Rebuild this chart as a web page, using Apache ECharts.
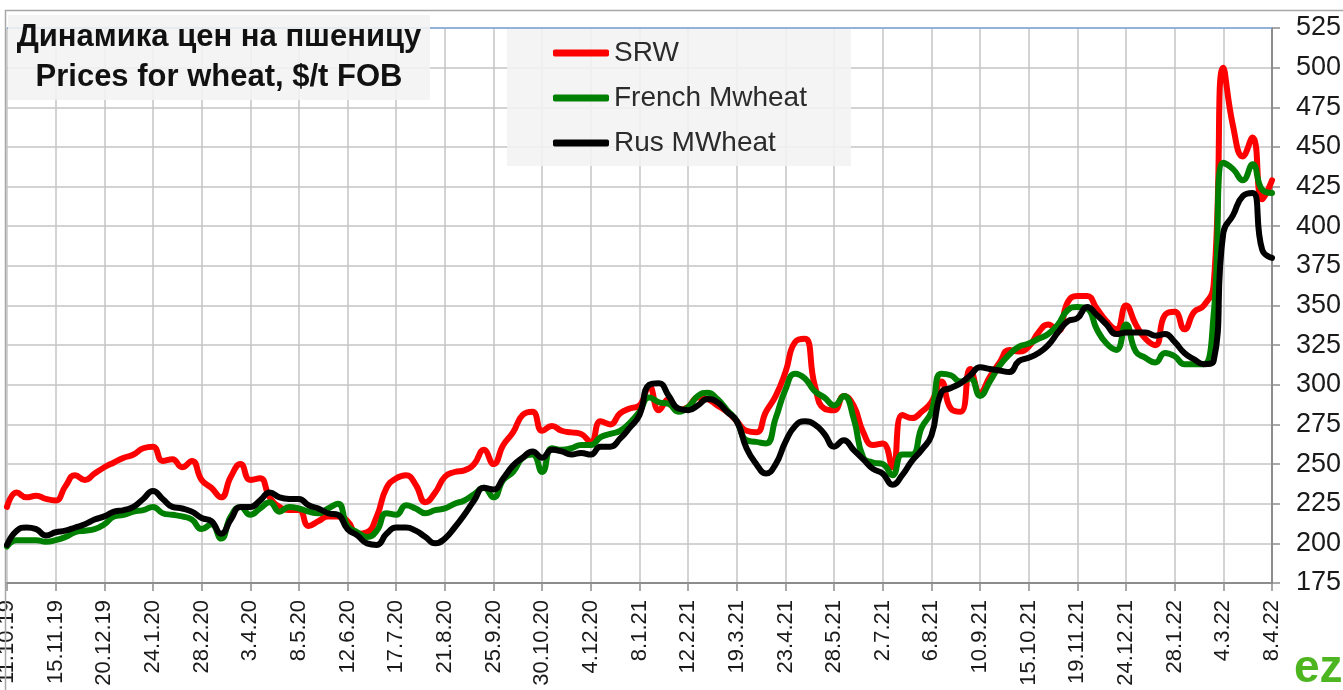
<!DOCTYPE html>
<html>
<head>
<meta charset="utf-8">
<title>Prices for wheat</title>
<script src="https://cdn.jsdelivr.net/npm/echarts@6/dist/echarts.min.js"></script>
<style>
  html, body { margin: 0; padding: 0; background: #fff; }
  #main { width: 1343px; height: 690px; }
</style>
</head>
<body>
<div id="main"></div>
<script>
// weekly prices, $/t FOB, first week 11.10.19
const srw = [223, 232, 229, 230, 228, 227, 236, 243, 240, 244, 248, 251, 254, 256, 260, 261, 252, 253, 248, 252,
  240, 235, 229, 242, 250, 240, 241, 229, 223, 221, 221, 211, 214, 217, 217, 214, 206, 207, 217, 235,
  241, 243, 237, 226, 232, 242, 245, 246, 250, 259, 250, 262, 270, 281, 283, 271, 274, 271, 270, 269,
  264, 277, 275, 282, 285, 287, 299, 284, 291, 284, 286, 292, 291, 287, 283, 277, 271, 270, 283, 293,
  308, 327, 329, 300, 285, 284, 293, 287, 270, 262, 263, 248, 281, 279, 283, 289, 302, 285, 283, 310,
  295, 305, 314, 322, 321, 324, 333, 338, 334, 352, 356, 356, 348, 340, 335, 350, 338, 329, 325, 344,
  346, 335, 346, 350, 363, 500, 463, 444, 456, 417, 429];
const frenchMw = [198, 202, 202, 202, 201, 202, 204, 207, 208, 209, 212, 217, 218, 220, 221, 223, 219, 218, 217, 215,
  209, 212, 203, 217, 223, 218, 222, 226, 220, 223, 222, 220, 219, 222, 225, 211, 207, 204, 208, 219,
  218, 224, 222, 219, 221, 222, 225, 227, 231, 235, 229, 240, 245, 254, 256, 245, 260, 259, 260, 262,
  262, 267, 269, 271, 276, 283, 292, 289, 288, 283, 286, 293, 295, 291, 284, 277, 265, 264, 263, 279,
  297, 307, 304, 296, 292, 287, 293, 279, 254, 251, 250, 243, 256, 256, 273, 283, 307, 306, 302, 304,
  293, 302, 312, 319, 324, 326, 329, 332, 338, 347, 349, 348, 335, 326, 322, 338, 321, 317, 314, 320,
  318, 313, 313, 313, 344, 440, 436, 429, 439, 423, 421];
const rusMw = [199, 208, 210, 209, 205, 207, 208, 210, 212, 215, 217, 220, 221, 223, 228, 233, 228, 223, 222, 220,
  216, 214, 206, 215, 223, 223, 227, 232, 229, 228, 228, 224, 222, 219, 218, 209, 205, 200, 199, 206,
  210, 210, 208, 204, 200, 203, 210, 218, 227, 235, 234, 241, 249, 254, 258, 254, 259, 258, 256, 257,
  256, 261, 261, 266, 273, 281, 300, 301, 293, 285, 284, 287, 291, 289, 283, 277, 260, 250, 244, 250,
  264, 274, 277, 275, 269, 261, 265, 259, 253, 247, 244, 237, 243, 252, 259, 268, 295, 298, 301, 306,
  311, 310, 309, 308, 315, 317, 320, 325, 333, 340, 342, 349, 344, 338, 332, 333, 333, 333, 331, 332,
  327, 320, 316, 313, 315, 396, 407, 419, 421, 385, 380];

const seriesNames = ['SRW', 'French Mwheat', 'Rus MWheat'];
const seriesColors = ['#ff0000', '#008000', '#000000'];

// week labels d.m.yy
const weeks = [];
for (let i = 0; i < srw.length; i++) {
  const d = new Date(2019, 9, 11 + i * 7);
  weeks.push(d.getDate() + '.' + (d.getMonth() + 1) + '.' + String(d.getFullYear()).slice(2));
}

const font = 'Liberation Sans, Arial, sans-serif';
const gridColor = '#c4c4c4';

const chart = echarts.init(document.getElementById('main'));
chart.setOption({
  animation: false,
  backgroundColor: '#ffffff',
  color: seriesColors,
  grid: {left: 7, right: 71, top: 28, bottom: 107, outerBoundsMode: 'none'},
  legend: {
    data: seriesNames,
    orient: 'vertical',
    left: 507,
    top: 29,
    padding: [9, 44, 8, 46],
    backgroundColor: 'rgba(242,242,242,0.88)',
    icon: 'roundRect',
    itemWidth: 56,
    itemHeight: 7,
    itemGap: 15,
    selectedMode: false,
    textStyle: {fontSize: 28, color: '#2b2b2b', fontFamily: font, lineHeight: 30}
  },
  xAxis: {
    type: 'category',
    data: weeks,
    boundaryGap: false,
    axisLine: {lineStyle: {color: '#8c8c8c', width: 2}},
    axisTick: {interval: 4, length: 8, lineStyle: {color: '#8c8c8c', width: 1.5}},
    axisLabel: {interval: 4, rotate: 90, margin: 17, fontSize: 22, color: '#1a1a1a', fontFamily: font},
    splitLine: {show: true, interval: 4, lineStyle: {color: gridColor, width: 1.5}}
  },
  yAxis: {
    type: 'value',
    position: 'right',
    min: 175,
    max: 525,
    interval: 25,
    axisLine: {show: true, lineStyle: {color: '#8c8c8c', width: 2}},
    axisTick: {show: true, length: 8, lineStyle: {color: '#8c8c8c', width: 1.5}},
    axisLabel: {margin: 24, fontSize: 27, color: '#1a1a1a', fontFamily: font},
    splitLine: {lineStyle: {color: gridColor, width: 1.5}}
  },
  series: [
    {name: seriesNames[0], type: 'line', data: srw},
    {name: seriesNames[1], type: 'line', data: frenchMw},
    {name: seriesNames[2], type: 'line', data: rusMw}
  ].map(s => Object.assign(s, {
    smooth: 0.5,
    symbol: 'none',
    lineStyle: {width: 6, cap: 'round', join: 'round'}
  })),
  graphic: [
    // outer frame
    {type: 'rect', shape: {x: 5.5, y: 10.5, width: 1345, height: 690}, style: {fill: 'none', stroke: '#a6a6a6', lineWidth: 1.5}, z: 1},
    // top edge of plot area
    {type: 'line', shape: {x1: 7, y1: 28, x2: 1272, y2: 28}, style: {stroke: '#7fa6d8', lineWidth: 1.5}, z: 5},
    // title box
    {type: 'rect', shape: {x: 8, y: 15, width: 422, height: 85}, style: {fill: 'rgba(242,242,242,0.88)'}, z: 50},
    {type: 'text', x: 219, y: 37, z: 51, style: {text: 'Динамика цен на пшеницу', fontSize: 31, fontWeight: 'bold', fontFamily: font, fill: '#111', textAlign: 'center', textVerticalAlign: 'middle'}},
    {type: 'text', x: 219, y: 77, z: 51, style: {text: 'Prices for wheat, $/t FOB', fontSize: 31, fontWeight: 'bold', fontFamily: font, fill: '#111', textAlign: 'center', textVerticalAlign: 'middle'}},
    // logo
    {type: 'text', x: 1294, y: 646, z: 51, style: {text: 'ez', fontSize: 46, fontWeight: 'bold', fontFamily: font, fill: '#4cb520'}}
  ]
});
</script>
</body>
</html>
